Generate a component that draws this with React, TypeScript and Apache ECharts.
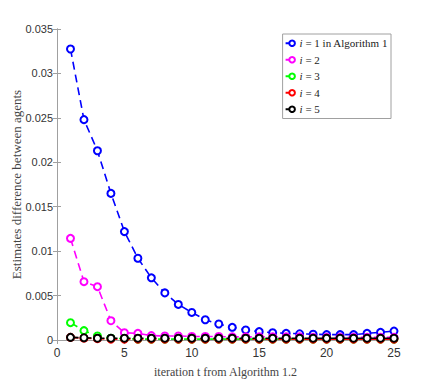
import React, { useEffect, useRef } from "react";
import * as echarts from "echarts";

const iterations = Array.from({ length: 25 }, (_, k) => k + 1);
const agent1 = [0.03275, 0.0248, 0.0213, 0.0165, 0.0122, 0.0092, 0.007, 0.0053, 0.004, 0.0031, 0.00228, 0.0018, 0.00143, 0.00113, 0.00094, 0.00082, 0.00075, 0.0007, 0.00065, 0.0006, 0.0006, 0.0006, 0.00075, 0.00086, 0.001];
const agent2 = [0.01144, 0.00656, 0.006, 0.00217, 0.00082, 0.00075, 0.0005, 0.00045, 0.00045, 0.0004, 0.0004, 0.0004, 0.00035, 0.00035, 0.00035, 0.00035, 0.00035, 0.00035, 0.0003, 0.0003, 0.0003, 0.0003, 0.0003, 0.0003, 0.0003];
const agent3 = [0.00195, 0.00105, 0.00045, 0.0002, 0.00015, 0.0001, 0.0001, 0.0001, 0.0001, 0.0001, 0.0001, 0.0001, 0.0001, 0.0001, 0.0001, 0.0001, 0.0001, 0.0001, 0.0001, 0.0001, 0.0001, 0.0001, 0.0001, 0.0001, 0.0001];
const agent4 = [0.0003, 0.0002, 0.00015, 0.0001, 0.0001, 0.0001, 0.0001, 0.0001, 0.0001, 0.0001, 0.0001, 0.0001, 0.0001, 0.0001, 0.0001, 0.0001, 0.0001, 0.0001, 0.0001, 0.0001, 0.0001, 0.0001, 0.0001, 0.0001, 0.0001];
const agent5 = [0.0003, 0.00025, 0.0002, 0.0002, 0.0002, 0.0002, 0.0002, 0.0002, 0.0002, 0.0002, 0.0002, 0.0002, 0.0002, 0.0002, 0.0002, 0.0002, 0.0002, 0.0002, 0.0002, 0.0002, 0.0002, 0.0002, 0.0002, 0.0002, 0.0002];

const seriesNames = ["i = 1 in Algorithm 1", "i = 2", "i = 3", "i = 4", "i = 5"];
const seriesColors = ["#0000ff", "#ff00ff", "#00ff00", "#ff0000", "#000000"];
const seriesData = [agent1, agent2, agent3, agent4, agent5];

const tickFont = "'Liberation Sans', Arial, sans-serif";
const serifFont = "'Liberation Serif', 'DejaVu Serif', serif";

export default function App() {
  const ref = useRef<HTMLDivElement>(null);
  useEffect(() => {
    if (!ref.current) return;
    const chart = echarts.init(ref.current, undefined, { renderer: "svg" });
    const axisLine = { show: true, lineStyle: { color: "#a0a0a0", width: 1 } };
    const axisTick = { show: true, inside: true, length: 4, lineStyle: { color: "#a0a0a0" } };
    chart.setOption({
      animation: false,
      backgroundColor: "#ffffff",
      grid: { left: 57, top: 29, right: 42, bottom: 42, containLabel: false, outerBoundsMode: "none" },
      legend: {
        right: 45,
        top: 34,
        orient: "vertical",
        backgroundColor: "#ffffff",
        borderColor: "#a0a0a0",
        borderWidth: 1,
        borderRadius: 0,
        padding: [3, 3, 3, 2],
        itemGap: 4,
        itemWidth: 13,
        itemHeight: 7,
        data: seriesNames,
        formatter: (name: string) => "{it|i}" + name.slice(1),
        textStyle: {
          fontFamily: serifFont,
          fontSize: 11,
          lineHeight: 12.5,
          color: "#222",
          padding: [0, 0, 0, -4],
          rich: {
            it: { fontStyle: "italic", fontFamily: serifFont, fontSize: 11, lineHeight: 12.5, color: "#222" },
          },
        },
      },
      xAxis: [
        {
          type: "value",
          min: 0,
          max: 25,
          interval: 5,
          name: "iteration t from Algorithm 1.2",
          nameLocation: "middle",
          nameGap: 26,
          nameMoveOverlap: false,
          nameTextStyle: { fontFamily: serifFont, fontSize: 12, color: "#444" },
          axisLine,
          axisTick,
          splitLine: { show: false },
          axisLabel: { fontFamily: tickFont, fontSize: 12, color: "#333", margin: 7 },
        },
        {
          type: "value",
          position: "top",
          min: 0,
          max: 25,
          interval: 5,
          axisLine,
          axisTick,
          splitLine: { show: false },
          axisLabel: { show: false },
        },
      ],
      yAxis: [
        {
          type: "value",
          min: 0,
          max: 0.035,
          interval: 0.005,
          name: "Estimates difference between agents",
          nameLocation: "middle",
          nameGap: 34,
          nameMoveOverlap: false,
          nameTextStyle: { fontFamily: serifFont, fontSize: 13, color: "#444" },
          axisLine,
          axisTick,
          splitLine: { show: false },
          axisLabel: { fontFamily: tickFont, fontSize: 11, color: "#333", margin: 4 },
        },
        {
          type: "value",
          position: "right",
          min: 0,
          max: 0.035,
          interval: 0.005,
          axisLine,
          axisTick,
          splitLine: { show: false },
          axisLabel: { show: false },
        },
      ],
      series: seriesNames.map((name, idx) => ({
        name,
        type: "line",
        xAxisIndex: 0,
        yAxisIndex: 0,
        data: iterations.map((t, k) => [t, seriesData[idx][k]]),
        symbol: "emptyCircle",
        symbolSize: 7,
        showAllSymbol: true,
        z: 2 + idx,
        lineStyle: { color: seriesColors[idx], width: 1.6, type: [8, 5] },
        itemStyle: { color: seriesColors[idx], borderColor: seriesColors[idx], borderWidth: 1.6 },
      })),
    });
    return () => chart.dispose();
  }, []);
  return <div ref={ref} style={{ position: "absolute", left: 0, top: 0, width: 436, height: 382 }} />;
}
